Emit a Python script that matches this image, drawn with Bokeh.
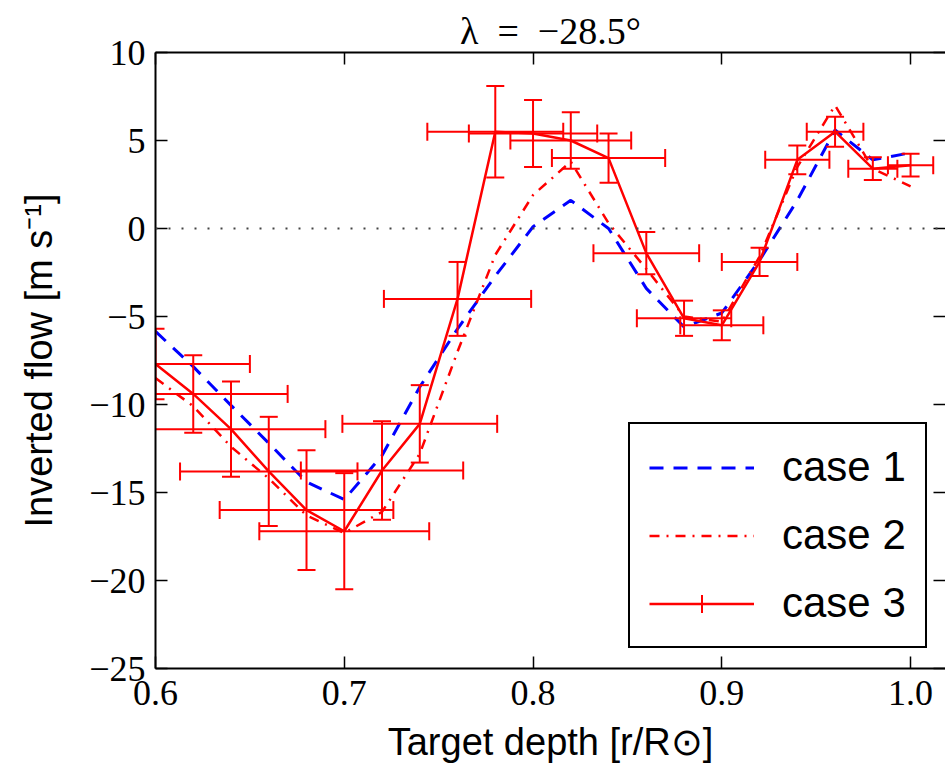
import numpy as np
from bokeh.plotting import figure
from bokeh.models import (Range1d, LinearAxis, FixedTicker, Legend, LegendItem,
                          Span, ColumnDataSource)
from bokeh.embed import file_html
from bokeh.resources import INLINE

# ---------------- data ----------------
depth = [0.60, 0.62, 0.64, 0.66, 0.68, 0.70, 0.72, 0.74, 0.76, 0.78, 0.80,
         0.82, 0.84, 0.86, 0.88, 0.90, 0.92, 0.94, 0.96, 0.98, 1.00]
case1 = [-5.85, -7.85, -10.05, -12.2, -14.4, -15.4, -12.9, -9.0, -5.7, -2.7, 0.1,
         1.6, 0.0, -3.4, -5.6, -4.8, -1.8, 1.6, 5.6, 3.9, 4.3]
case2 = [-8.5, -10.1, -12.4, -14.2, -16.3, -17.3, -16.1, -12.8, -7.0, -1.5, 1.9,
         3.8, 0.3, -2.3, -5.0, -5.3, -1.6, 3.5, 7.0, 3.4, 2.4]
case3 = [-7.7, -9.4, -11.4, -13.8, -16.0, -17.2, -13.75, -11.1, -4.0, 5.5, 5.4,
         5.0, 4.0, -1.4, -5.1, -5.5, -1.9, 3.9, 5.5, 3.4, 3.6]
case3_yerr = [2.0, 2.2, 2.7, 3.1, 3.4, 3.3, 2.8, 2.2, 2.1, 2.6, 1.9,
              1.6, 1.4, 1.2, 1.0, 0.85, 0.8, 0.82, 0.85, 0.65, 0.65]
case3_xerr = [0.050, 0.050, 0.050, 0.047, 0.046, 0.045, 0.043, 0.041, 0.039, 0.036, 0.034,
              0.032, 0.030, 0.028, 0.025, 0.022, 0.020, 0.017, 0.015, 0.013, 0.012]

x_ticks = [0.6, 0.7, 0.8, 0.9, 1.0]
x_tick_labels = ["0.6", "0.7", "0.8", "0.9", "1.0"]
y_ticks = [-25, -20, -15, -10, -5, 0, 5, 10]
y_tick_labels = ["\u221225", "\u221220", "\u221215", "\u221210", "\u22125", "0", "5", "10"]

title_text = "\u03bb\u2002=\u2002\u221228.5\u00b0"
x_label = "Target depth [r/R\u2299]"
y_label = "Inverted flow [m s\u207b\u00b9]"
legend_labels = ["case 1", "case 2", "case 3"]

# ---------------- figure ----------------
SERIF = "Liberation Serif"
SANS = "Liberation Sans"
RED = "#ff0000"
BLUE = "#0000ff"

p = figure(width=945, height=765, output_backend="svg", toolbar_location=None,
           x_range=Range1d(0.6, 1.0185), y_range=Range1d(-25, 10),
           min_border_left=155, min_border_top=52, min_border_bottom=97,
           min_border_right=0, title=title_text)
p.outline_line_color = None
p.xgrid.visible = False
p.ygrid.visible = False
p.background_fill_color = "white"
p.border_fill_color = "white"

p.title.align = "center"
p.title.text_font = SERIF
p.title.text_font_style = "normal"
p.title.text_font_size = "38px"
p.title.text_color = "black"
p.title.standoff = 2

xt = FixedTicker(ticks=x_ticks)
yt = FixedTicker(ticks=y_ticks)
x_over = {t: l for t, l in zip(x_ticks, x_tick_labels)}
y_over = {t: l for t, l in zip(y_ticks, y_tick_labels)}


def style_axis(ax):
    ax.major_tick_in = 12
    ax.major_tick_out = 0
    ax.minor_tick_in = 0
    ax.minor_tick_out = 0
    ax.axis_line_width = 2
    ax.axis_line_color = "black"
    ax.major_tick_line_width = 1.5
    ax.major_tick_line_color = "black"
    ax.major_label_text_font = SERIF
    ax.major_label_text_font_size = "36px"
    ax.major_label_text_color = "black"
    ax.axis_label_text_font = SANS
    ax.axis_label_text_font_style = "normal"
    ax.axis_label_text_font_size = "38px"
    ax.axis_label_text_color = "black"


xa = p.xaxis[0]
ya = p.yaxis[0]
style_axis(xa)
style_axis(ya)
xa.ticker = xt
ya.ticker = yt
xa.major_label_overrides = x_over
ya.major_label_overrides = y_over
xa.major_label_standoff = 12
ya.major_label_standoff = 10
xa.axis_label = x_label
ya.axis_label = y_label
xa.axis_label_standoff = 13
ya.axis_label_standoff = 26

# mirrored tick marks on top and right (no labels drawn there)
top_ax = LinearAxis(ticker=xt)
style_axis(top_ax)
top_ax.major_label_text_font_size = "1px"
top_ax.major_label_text_color = None
top_ax.major_label_standoff = 0
right_ax = LinearAxis(ticker=yt)
style_axis(right_ax)
right_ax.axis_line_color = None
right_ax.major_label_text_font_size = "1px"
right_ax.major_label_text_color = None
right_ax.major_label_standoff = 0
p.add_layout(top_ax, "above")
p.add_layout(right_ax, "right")
p.above = [top_ax] + [r for r in p.above if r is not top_ax]

# zero line
p.add_layout(Span(location=0, dimension="width", line_color="#444444",
                  line_width=2, line_dash="2 11"))

# ---------------- glyphs ----------------
d = np.array(depth)
y3 = np.array(case3)
ye = np.array(case3_yerr)
xe = np.array(case3_xerr)
src = ColumnDataSource(dict(x=d, y=y3, x0=d - xe, x1=d + xe, y0=y3 - ye, y1=y3 + ye))

r1 = p.line(depth, case1, line_color=BLUE, line_width=3, line_dash="14 10")
r2 = p.line(depth, case2, line_color=RED, line_width=2.5, line_dash="10 7 2 7")

p.segment(x0="x0", y0="y", x1="x1", y1="y", source=src, line_color=RED, line_width=2)
p.segment(x0="x", y0="y0", x1="x", y1="y1", source=src, line_color=RED, line_width=2)
p.scatter(x="x0", y="y", source=src, marker="dash", angle=np.pi / 2, size=18,
          line_color=RED, line_width=2)
p.scatter(x="x1", y="y", source=src, marker="dash", angle=np.pi / 2, size=18,
          line_color=RED, line_width=2)
p.scatter(x="x", y="y0", source=src, marker="dash", size=18, line_color=RED, line_width=2)
p.scatter(x="x", y="y1", source=src, marker="dash", size=18, line_color=RED, line_width=2)
r3 = p.line(depth, case3, line_color=RED, line_width=2.5)
# zero-size markers at the data points: invisible in the plot, give the
# error-bar cross in the legend entry
r3_leg = p.scatter(x="x", y="y", source=src, marker="cross", size=0,
                   line_color=RED, line_width=2)

legend = Legend(items=[LegendItem(label=legend_labels[0], renderers=[r1]),
                       LegendItem(label=legend_labels[1], renderers=[r2]),
                       LegendItem(label=legend_labels[2], renderers=[r3, r3_leg])],
                location=(473, 20))
legend.border_line_color = "black"
legend.border_line_width = 2
legend.border_line_alpha = 1
legend.background_fill_color = "white"
legend.background_fill_alpha = 1
legend.label_text_font = SANS
legend.label_text_font_size = "42px"
legend.label_text_color = "black"
legend.glyph_width = 105
legend.glyph_height = 45
legend.label_height = 45
legend.spacing = 20
legend.padding = 19
legend.margin = 0
legend.label_standoff = 28
p.add_layout(legend)

open("out.html", "w").write(file_html(p, INLINE))
